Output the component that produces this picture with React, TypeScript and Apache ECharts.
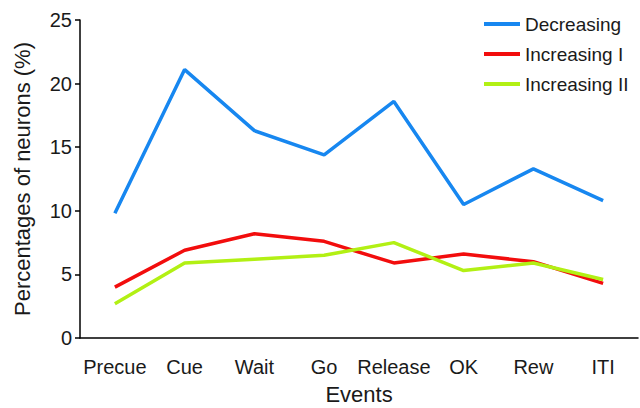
import React, { useEffect, useRef } from "react";
import * as echarts from "echarts";

// Task events along the trial
const events = ["Precue", "Cue", "Wait", "Go", "Release", "OK", "Rew", "ITI"];

// Share of neurons (%) in each response class per event
const decreasing = [9.8, 21.1, 16.3, 14.4, 18.6, 10.5, 13.3, 10.8];
const increasingI = [4.0, 6.9, 8.2, 7.6, 5.9, 6.6, 6.0, 4.3];
const increasingII = [2.7, 5.9, 6.2, 6.5, 7.5, 5.3, 5.9, 4.6];

const FONT = "'Liberation Sans', Arial, Helvetica, sans-serif";
const TEXT = "#1a1a1a";

export default function App() {
  const ref = useRef<HTMLDivElement>(null);

  useEffect(() => {
    if (!ref.current) return;
    const chart = echarts.init(ref.current, null, { renderer: "svg" });

    const line = (name: string, data: number[], color: string) => ({
      name,
      type: "line",
      data,
      symbol: "none",
      lineStyle: { color, width: 3.5 },
      itemStyle: { color },
    });

    chart.setOption({
      animation: false,
      backgroundColor: "#ffffff",
      textStyle: { fontFamily: FONT },
      grid: { left: 80, right: 2, top: 20, bottom: 70, outerBoundsMode: "none", containLabel: false },
      legend: {
        orient: "vertical",
        left: 479,
        top: 9,
        itemWidth: 36,
        itemHeight: 4,
        itemGap: 10,
        icon: "rect",
        textStyle: { fontFamily: FONT, fontSize: 19, color: TEXT, lineHeight: 20 },
        data: ["Decreasing", "Increasing I", "Increasing II"],
      },
      xAxis: {
        type: "category",
        data: events,
        boundaryGap: true,
        name: "Events",
        nameLocation: "middle",
        nameGap: 45,
        nameTextStyle: { fontFamily: FONT, fontSize: 22, color: TEXT },
        axisLine: { lineStyle: { color: "#000", width: 1.5 } },
        axisTick: { alignWithLabel: true, length: 5, lineStyle: { color: "#000", width: 1.5 } },
        axisLabel: { interval: 0, fontFamily: FONT, fontSize: 20, color: TEXT, margin: 19 },
        splitLine: { show: false },
      },
      yAxis: {
        type: "value",
        min: 0,
        max: 25,
        interval: 5,
        name: "Percentages of neurons (%)",
        nameLocation: "middle",
        nameGap: 47,
        nameTextStyle: { fontFamily: FONT, fontSize: 22, color: TEXT },
        axisLine: { show: true, lineStyle: { color: "#000", width: 1.5 } },
        axisTick: { show: true, length: 5, lineStyle: { color: "#000", width: 1.5 } },
        axisLabel: { fontFamily: FONT, fontSize: 20, color: TEXT, margin: 8 },
        splitLine: { show: false },
      },
      series: [
        line("Decreasing", decreasing, "#1787f0"),
        line("Increasing I", increasingI, "#f20d0d"),
        line("Increasing II", increasingII, "#b2f014"),
      ],
    });

    return () => chart.dispose();
  }, []);

  return (
    <div
      ref={ref}
      style={{ position: "absolute", left: 0, top: 0, width: 640, height: 408 }}
    />
  );
}
